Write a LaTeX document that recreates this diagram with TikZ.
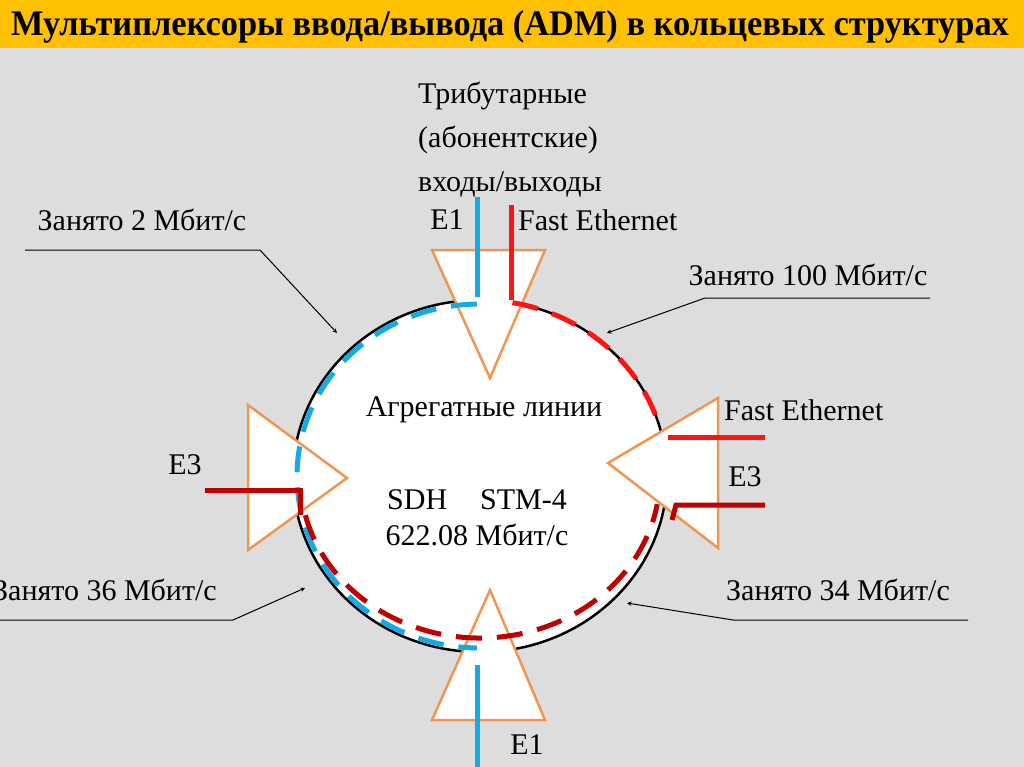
\documentclass[tikz,border=0pt]{standalone}
\usepackage{fontspec}
\setmainfont{Liberation Serif}
\usetikzlibrary{shapes.geometric}
\definecolor{bgc}{RGB}{221,221,221}
\definecolor{ttl}{RGB}{255,192,0}
\definecolor{org}{RGB}{240,150,80}
\definecolor{bl}{RGB}{20,170,230}
\definecolor{rd}{RGB}{255,20,20}
\definecolor{drd}{RGB}{192,0,0}
\begin{document}
\begin{tikzpicture}[x=1pt,y=-1pt,
  txt/.style={font=\fontsize{30}{44}\selectfont, inner sep=0pt},
  tri/.style={draw=org, fill=white, line width=2.5pt, line join=miter},
  blueline/.style={draw=bl, line width=5pt},
  redline/.style={draw=rd, line width=5pt},
  dred/.style={draw=drd, line width=5pt},
  dsh/.style={dash pattern=on 26pt off 15pt},
  ptr/.style={draw=black, line width=1pt, -stealth}]
\useasboundingbox (0,0) rectangle (1024,767);
\fill[bgc] (0,0) rectangle (1024,767);
\fill[ttl] (0,0) rectangle (1024,48);
\node[font=\fontsize{36}{38}\selectfont\bfseries, xscale=0.955] (title) at (510,27) {Мультиплексоры ввода/вывода (ADM) в кольцевых структурах};
% ring
\node[draw=black, fill=white, line width=2.5pt, ellipse, minimum width=374pt, minimum height=352pt, inner sep=0pt] (ring) at (480,476) {};
% triangles
\draw[tri] (432,250) -- (545,250) -- (490,378) -- cycle;
\draw[tri] (248,405) -- (248,550) -- (347,478) -- cycle;
\draw[tri] (718,398) -- (718,548) -- (608,463) -- cycle;
\draw[tri] (432,720) -- (545,720) -- (490,590) -- cycle;
% blue E1
\draw[blueline] (477,197) -- (477,297);
\draw[blueline, dsh] (480,476) ++(-91:183 and 172) arc[start angle=-91, end angle=-269, x radius=183, y radius=172];
\draw[blueline] (477,665) -- (477,767);
% red fast ethernet
\draw[redline] (511,205) -- (511,300);
\draw[redline, dsh] (480,476) ++(-80:187 and 176) arc[start angle=-80, end angle=-18, x radius=187, y radius=176];
\draw[redline] (668,437) -- (765,437);
% dark red E3
\draw[dred] (205,490) -- (300,490) -- (300,515);
\draw[dred, dsh] (480,476) ++(-194:180 and 162) arc[start angle=-194, end angle=-350, x radius=180, y radius=162];
\draw[dred] (672,520) -- (676,505) -- (765,505);
% texts
\node[txt, anchor=north west, align=left] (trib) at (418,82) {Трибутарные\\(абонентские)\\входы/выходы};
\node[txt] (e1t) at (447,220) {E1};
\node[txt, anchor=west] (fet) at (518,220) {Fast Ethernet};
\node[txt] (agr) at (484,410) {Агрегатные линии};
\node[txt, align=center, font=\fontsize{30}{36}\selectfont] (sdh) at (477,518) {SDH\hspace{1.1em}STM-4\\622.08 Мбит/с};
\node[txt, anchor=west] (fer) at (724,410) {Fast Ethernet};
\node[txt] (e3l) at (185,465) {E3};
\node[txt] (e3r) at (745,477) {E3};
\node[txt] (e1b) at (527,745) {E1};
% occupancy labels
\node[txt] (z2) at (142,220) {Занято 2 Мбит/с};
\node[txt] (z100) at (808,275) {Занято 100 Мбит/с};
\node[txt] (z36) at (105,590) {Занято 36 Мбит/с};
\node[txt] (z34) at (838,590) {Занято 34 Мбит/с};
\coordinate (a2) at (337,333);
\coordinate (a100) at (607,333);
\coordinate (a36) at (305,588);
\coordinate (a34) at (627,603);
\draw[ptr] (25,250) -- (260,250) -- (a2);
\draw[ptr] (930,298) -- (705,298) -- (a100);
\draw[ptr] (0,620) -- (233,620) -- (a36);
\draw[ptr] (968,620) -- (733,620) -- (a34);
\end{tikzpicture}
\end{document}
